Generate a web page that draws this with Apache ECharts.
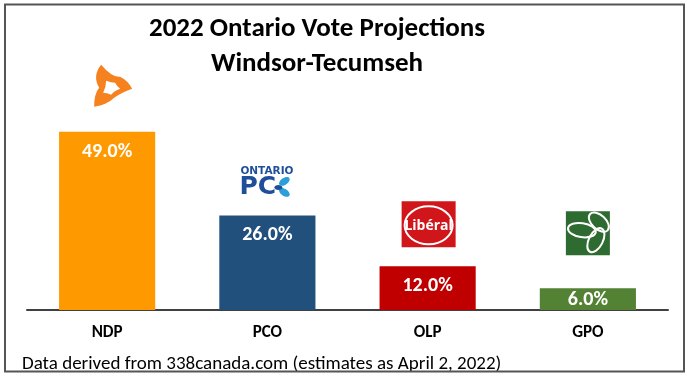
<!DOCTYPE html>
<html>
<head>
<meta charset="utf-8">
<script src="https://cdn.jsdelivr.net/npm/echarts@6/dist/echarts.min.js"></script>
<style>
  html, body { margin: 0; padding: 0; background: #fff; }
  #chart { width: 693px; height: 377px; }
</style>
</head>
<body>
<div id="chart"></div>
<script>
const parties = ['NDP', 'PCO', 'OLP', 'GPO']
const shares = [49.0, 26.0, 12.0, 6.0]
const partyColors = ['#FF9900', '#22507C', '#C00000', '#548235']

const FONT = 'Carlito, Lato, sans-serif'

// custom shapes for the NDP logo
echarts.graphic.registerShape('ndpOuter', echarts.graphic.extendPath(
  'M-12,-21 Q-1,-8 7,-9 Q15,-5 19,3 Q8,7 1,12 Q-6,19 -19,21 Q-19,8 -14,2 Q-21,-10 -12,-21 Z', {}
))
echarts.graphic.registerShape('ndpInner', echarts.graphic.extendPath(
  'M-7,-5 Q-2,-3 2,-3 Q4,1 7,3 Q1,5 -2,9 Q-6,7 -10,7 Q-7,1 -7,-5 Z', {}
))

const chart = echarts.init(document.getElementById('chart'), null, { renderer: 'canvas' })

chart.setOption({
  backgroundColor: '#fff',
  animation: false,
  title: [
    {
      text: '2022 Ontario Vote Projections\nWindsor-Tecumseh',
      left: 312,
      top: 7,
      textAlign: 'center',
      textStyle: {
        fontFamily: FONT,
        fontWeight: 'bold',
        fontSize: 27,
        lineHeight: 35,
        color: '#000'
      }
    },
    {
      text: 'Data derived from 338canada.com (estimates as April 2, 2022)',
      left: 17,
      top: 348,
      textStyle: {
        fontFamily: FONT,
        fontWeight: 'normal',
        fontSize: 19,
        lineHeight: 22,
        color: '#000'
      }
    }
  ],
  grid: {
    left: 27,
    right: 25,
    top: 91.7,
    bottom: 67
  },
  xAxis: {
    type: 'category',
    data: parties,
    axisTick: { show: false },
    axisLine: {
      lineStyle: { color: '#404040', width: 2 }
    },
    axisLabel: {
      margin: 13,
      color: '#000',
      fontFamily: FONT,
      fontWeight: 'bold',
      fontSize: 17,
      lineHeight: 20
    }
  },
  yAxis: {
    type: 'value',
    min: 0,
    max: 60,
    show: false,
    splitLine: { show: false }
  },
  series: [{
    type: 'bar',
    barWidth: '60%',
    data: shares.map((v, i) => ({
      value: v,
      itemStyle: { color: partyColors[i] },
      label: { distance: v < 10 ? 2 : 10 }
    })),
    label: {
      show: true,
      position: 'insideTop',
      color: '#fff',
      fontFamily: FONT,
      fontWeight: 'bold',
      fontSize: 20,
      formatter: p => p.value.toFixed(1) + '%'
    }
  }]
})

// party logos, placed relative to each bar top
function logoNDP() {
  return [
    { type: 'ndpOuter', style: { fill: '#F5821F' } },
    { type: 'ndpInner', style: { fill: '#fff' } }
  ]
}
function logoPC() {
  return [
    {
      type: 'text',
      style: { x: -25, y: -10, text: 'ONTARIO', fill: '#1F4E9A', font: 'bold 10.5px "DejaVu Sans", sans-serif', textAlign: 'left', textVerticalAlign: 'middle' }
    },
    {
      type: 'text',
      style: { x: -26, y: 6, text: 'PC', fill: '#1F4E9A', font: 'bold 25px "DejaVu Sans", sans-serif', textAlign: 'left', textVerticalAlign: 'middle' }
    },
    { type: 'ellipse', shape: { cx: 19, cy: 0, rx: 6, ry: 3.5 }, rotation: 0.6, originX: 19, originY: 0, style: { fill: '#2A9FD8' } },
    { type: 'ellipse', shape: { cx: 19, cy: 11, rx: 6, ry: 3.5 }, rotation: -0.6, originX: 19, originY: 11, style: { fill: '#2A9FD8' } },
    { type: 'ellipse', shape: { cx: 13, cy: 6, rx: 4, ry: 2.5 }, style: { fill: '#1F4E9A' } }
  ]
}
function logoOLP() {
  return [
    { type: 'rect', shape: { x: -27, y: -23, width: 54, height: 46 }, style: { fill: '#D0161B' } },
    { type: 'ellipse', shape: { cx: 0, cy: 1, rx: 24, ry: 19 }, style: { fill: 'none', stroke: '#fff', lineWidth: 2 } },
    {
      type: 'text',
      style: { x: 0, y: 2, text: 'Libéral', fill: '#fff', font: 'bold 14px "Liberation Sans Narrow", "Open Sans", sans-serif', textAlign: 'center', textVerticalAlign: 'middle' }
    }
  ]
}
function logoGPO() {
  const leaf = (cx, cy, rx, ry, rot) => ({
    type: 'ellipse',
    shape: { cx: cx, cy: cy, rx: rx, ry: ry },
    rotation: rot,
    originX: cx,
    originY: cy,
    style: { fill: 'none', stroke: '#fff', lineWidth: 2 }
  })
  return [
    { type: 'rect', shape: { x: -22, y: -22, width: 44, height: 44 }, style: { fill: '#2E6B30' } },
    leaf(-6, -3, 14, 7, -0.15),
    leaf(11, -11, 12, 7, -0.75),
    leaf(8, 7, 13, 7, 1.1)
  ]
}

const logos = [
  { make: logoNDP, dx: 6, dy: -46 },
  { make: logoPC, dx: -2, dy: -34 },
  { make: logoOLP, dx: 1, dy: -42 },
  { make: logoGPO, dx: 0, dy: -55 }
]

const graphics = logos.map((l, i) => {
  const pt = chart.convertToPixel({ seriesIndex: 0 }, [parties[i], shares[i]])
  return {
    type: 'group',
    x: pt[0] + l.dx,
    y: pt[1] + l.dy,
    children: l.make()
  }
})

// frame around the whole picture
graphics.push({
  type: 'rect',
  shape: { x: 5, y: 4.5, width: 679, height: 367 },
  style: { fill: 'none', stroke: '#555', lineWidth: 2 },
  z: 10
})

chart.setOption({ graphic: graphics })
</script>
</body>
</html>
